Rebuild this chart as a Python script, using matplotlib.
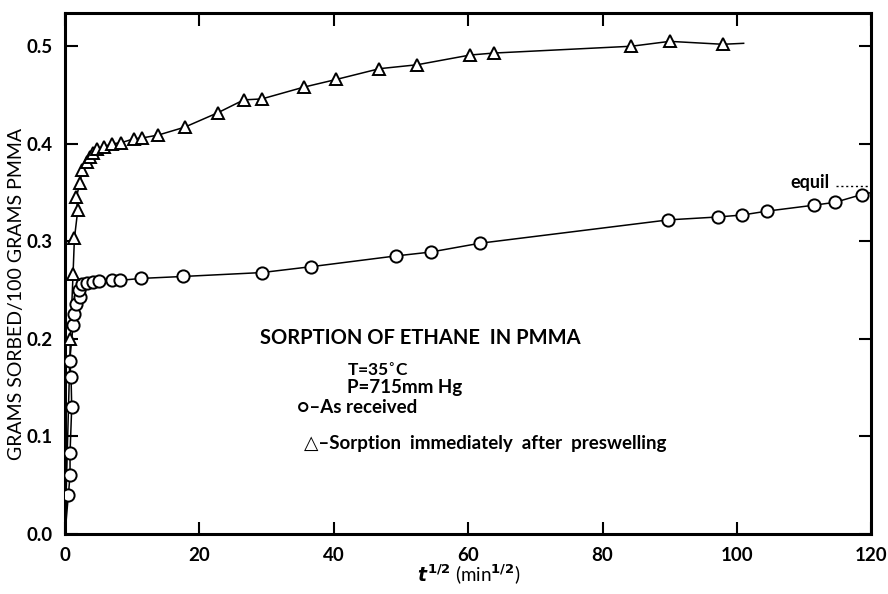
import numpy as np
import matplotlib
matplotlib.use("Agg")
import matplotlib.pyplot as plt

plt.rcParams['font.family'] = ['Lato', 'DejaVu Sans']
plt.rcParams['font.weight'] = 'bold'

# as received film (circles), t^1/2 in min^1/2
t_recv = [0.5, 0.75, 0.75, 1.0, 0.9, 0.7, 1.2, 1.4, 1.7, 2.2, 2.1, 2.5, 3.3, 4.2,
          5.1, 7.0, 8.2, 11.3, 17.6, 29.3, 36.6, 49.2, 54.4, 61.7, 89.8, 97.2,
          100.8, 104.5, 111.4, 114.6, 118.6]
m_recv = [0.040, 0.060, 0.083, 0.130, 0.161, 0.177, 0.214, 0.226, 0.236, 0.243,
          0.250, 0.256, 0.257, 0.258, 0.259, 0.260, 0.260, 0.262, 0.264, 0.268,
          0.274, 0.285, 0.289, 0.298, 0.322, 0.325, 0.327, 0.331, 0.337, 0.340,
          0.348]

# preswelled film (triangles)
t_presw = [0.8, 1.2, 1.4, 1.9, 1.7, 2.2, 2.6, 3.2, 3.7, 4.2, 4.7, 5.8, 7.0, 8.3,
           10.2, 11.5, 13.9, 17.8, 22.8, 26.6, 29.3, 35.5, 40.4, 46.8, 52.4,
           60.3, 63.8, 84.3, 90.0, 97.9]
m_presw = [0.200, 0.267, 0.303, 0.332, 0.345, 0.360, 0.373, 0.381, 0.386, 0.391,
           0.395, 0.397, 0.400, 0.401, 0.405, 0.406, 0.409, 0.417, 0.432, 0.445,
           0.446, 0.458, 0.466, 0.477, 0.481, 0.491, 0.493, 0.500, 0.505, 0.502]

# where the hand-drawn curves start and stop
recv_ends = [(0.0, 0.0), (120.0, 0.350)]
presw_ends = [(0.0, 0.0), (101.0, 0.503)]

m_equil = 0.357
t_equil = [114.8, 119.9]

fig = plt.figure(figsize=(8.88, 5.94), dpi=100)
ax = fig.add_axes([0.0732, 0.101, 0.908, 0.877])

for t, m, ends, mk in [(t_recv, m_recv, recv_ends, 'o'),
                       (t_presw, m_presw, presw_ends, '^')]:
    xs = [ends[0][0]] + list(t) + [ends[1][0]]
    ys = [ends[0][1]] + list(m) + [ends[1][1]]
    ax.plot(xs, ys, color='black', lw=1.1, zorder=2)
    ax.plot(t, m, linestyle='none', marker=mk, markersize=8.8 if mk == 'o' else 8.3,
            markerfacecolor='white', markeredgecolor='black', markeredgewidth=1.4,
            zorder=3)

ax.plot(t_equil, [m_equil, m_equil], color='black', lw=1.0, linestyle=(0, (1.5, 2)))
ax.text(t_equil[0] - 1.0, m_equil + 0.003, 'equil', ha='right', va='center',
        fontsize=13)

ax.text(29.0, 0.201, 'SORPTION OF ETHANE  IN PMMA', fontsize=14.5, va='center')
ax.text(41.9, 0.168, 'T=35$^{\\circ}$C', fontsize=12.5, va='center')
ax.text(41.9, 0.150, 'P=715mm Hg', fontsize=13.5, va='center')
ax.text(34.6, 0.130, '\u25cb\u2013As received', fontsize=13.5, va='center')
ax.text(35.6, 0.093, '\u25b3\u2013Sorption  immediately  after  preswelling',
        fontsize=13.5, va='center')

ax.set_xlim(0, 120)
ax.set_ylim(0, 0.534)
ax.set_xticks(np.arange(0, 121, 20))
ax.set_yticks(np.arange(0, 0.51, 0.1))
ax.set_yticklabels(['0.0', '0.1', '0.2', '0.3', '0.4', '0.5'])
ax.tick_params(direction='in', length=9, width=1.5, labelsize=13.5, pad=9,
               top=True, right=True)

for s in ax.spines.values():
    s.set_linewidth(2.2)

ax.set_xlabel('$t^{1/2}$ (min$^{1/2}$)', fontsize=13.5)
ax.xaxis.set_label_coords(0.5, -0.055)
ax.set_ylabel('GRAMS SORBED/100 GRAMS PMMA', fontsize=14)
ax.yaxis.set_label_coords(-0.05, 0.46)

fig.savefig('out.png', dpi=100)
